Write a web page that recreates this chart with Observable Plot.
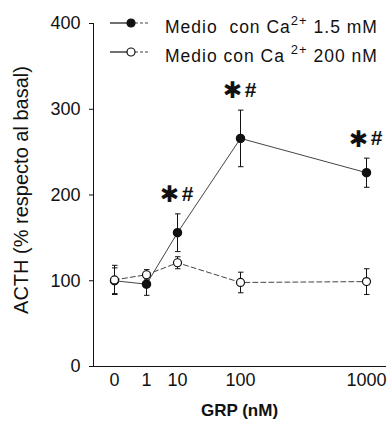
<!DOCTYPE html>
<html><head><meta charset="utf-8">
<script src="https://cdn.jsdelivr.net/npm/d3@7"></script>
<script src="https://cdn.jsdelivr.net/npm/@observablehq/plot@0.6"></script>
<style>
body{margin:0;background:#fff;}
#wrap{position:relative;width:392px;height:426px;font-family:"Liberation Sans",Arial,sans-serif;}
#legend{position:absolute;left:0;top:0;pointer-events:none;}
g[aria-label="ylabel"] text{letter-spacing:1px;}
g[aria-label="xlabel"] text{letter-spacing:1px;}
</style></head><body><div id="wrap"></div>
<script>
const grp = [0, 1, 10, 100, 1000];
const tickLabels = ["0", "1", "10", "100", "1000"];
const caHigh = [100, 96, 156, 266, 226];
const caHighErr = [15, 13, 22, 33, 17];
const caLow = [101, 107, 121, 98, 99];
const caLowErr = [17, 6, 7, 12, 15];
const signif = ["", "", "*#", "*#", "*#"];
const yTicks = [0, 100, 200, 300, 400];
const legendLabels = [["Medio\u00a0\u00a0con Ca", "2+", " 1.5 mM"], ["Medio con Ca ", "2+", " 200 nM"]];

const high = grp.map((g, i) => ({grp: g, v: caHigh[i], e: caHighErr[i], s: signif[i]}));
const low = grp.map((g, i) => ({grp: g, v: caLow[i], e: caLowErr[i]}));
const sig = high.filter(d => d.s);

const ink = "#111";
const chart = Plot.plot({
  width: 392, height: 426,
  marginLeft: 93, marginRight: 7, marginTop: 23, marginBottom: 60,
  style: {fontFamily: "Liberation Sans, Arial, sans-serif", fontSize: "18px", color: ink, background: "#fff", overflow: "visible"},
  x: {type: "linear", domain: grp, range: [114, 146, 177, 240, 366], ticks: grp,
      tickFormat: d => tickLabels[grp.indexOf(d)], tickSize: 0, tickPadding: 7, label: null, line: true},
  y: {domain: [0, 400], ticks: yTicks, tickSize: 4, tickPadding: 9, label: null, line: true},
  marks: [
    Plot.link(high, {x1: "grp", x2: "grp", y1: d => d.v - d.e, y2: d => d.v + d.e, stroke: ink, strokeWidth: 1, markerStart: "tick", markerEnd: "tick"}),
    Plot.link(low, {x1: "grp", x2: "grp", y1: d => d.v - d.e, y2: d => d.v + d.e, stroke: ink, strokeWidth: 1, markerStart: "tick", markerEnd: "tick"}),
    Plot.line(high, {x: "grp", y: "v", stroke: "#444", strokeWidth: 1}),
    Plot.line(low, {x: "grp", y: "v", stroke: "#444", strokeWidth: 1, strokeDasharray: "5,3"}),
    Plot.dot(high, {x: "grp", y: "v", r: 4, fill: ink, stroke: ink}),
    Plot.dot(low, {x: "grp", y: "v", r: 4, fill: "#fff", stroke: ink, strokeWidth: 1.2}),
    Plot.text(sig, {x: "grp", y: d => d.v + d.e, text: () => "\u2731", dx: -8, dy: -19, fontSize: 23, fontFamily: "DejaVu Sans", fill: ink}),
    Plot.text(sig, {x: "grp", y: d => d.v + d.e, text: () => "#", dx: 10, dy: -20, fontSize: 21, fontWeight: "bold", fill: ink}),
    Plot.text(["ACTH (% respecto al basal)"], {frameAnchor: "left", rotate: -90, dx: -72, dy: -5, fontSize: 20, textAnchor: "middle", lineAnchor: "middle", fill: ink, ariaLabel: "ylabel"}),
    Plot.text(["GRP (nM)"], {frameAnchor: "bottom", dy: 44, fontSize: 17, fontWeight: "bold", textAnchor: "middle", lineAnchor: "middle", fill: ink, ariaLabel: "xlabel"})
  ]
});
const wrap = document.getElementById("wrap");
wrap.appendChild(chart);

// legend overlay
const leg = d3.select(wrap).append("svg").attr("id", "legend").attr("width", 392).attr("height", 80);
const rows = [{y: 23, filled: true}, {y: 52, filled: false}];
rows.forEach((r, i) => {
  const g = leg.append("g");
  g.append("line").attr("x1", 110).attr("x2", 130).attr("y1", r.y).attr("y2", r.y).attr("stroke", ink).attr("stroke-width", 1.2);
  g.append("line").attr("x1", 135).attr("x2", 149).attr("y1", r.y).attr("y2", r.y).attr("stroke", "#444").attr("stroke-width", 1).attr("stroke-dasharray", "3,2");
  g.append("circle").attr("cx", 131).attr("cy", r.y).attr("r", 4).attr("fill", r.filled ? ink : "#fff").attr("stroke", ink).attr("stroke-width", 1.2);
  const t = g.append("text").attr("x", 165).attr("y", r.y + 10).attr("font-size", 17.5).attr("fill", ink)
    .attr("font-family", "Liberation Sans, Arial, sans-serif").attr("letter-spacing", "1px");
  const parts = legendLabels[i];
  t.append("tspan").text(parts[0]);
  t.append("tspan").attr("font-size", 13).attr("dy", -8).text(parts[1]);
  t.append("tspan").attr("dy", 8).text(parts[2]);
});
</script></body></html>
